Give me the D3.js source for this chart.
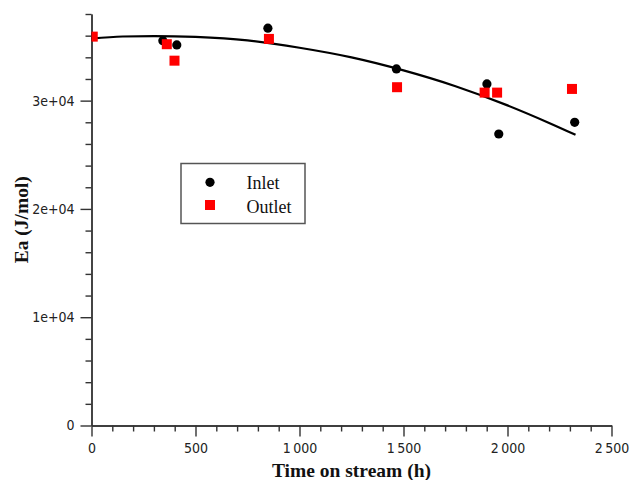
<!DOCTYPE html>
<html>
<head>
<meta charset="utf-8">
<script src="https://cdn.jsdelivr.net/npm/d3@7"></script>
<style>
  html, body { margin: 0; padding: 0; background: #fff; }
  svg { display: block; }
  .tick text { font-family: 'DejaVu Sans Condensed', 'DejaVu Sans', sans-serif; font-stretch: condensed; font-size: 14px; fill: #222; }
</style>
</head>
<body>
<svg id="chart" width="630" height="480"></svg>
<script>
// Apparent activation energy versus time on stream
const inletHours  = [0, 343, 410, 848, 1466, 1901, 1958, 2323];
const inletEa     = [35900, 35540, 35140, 36690, 32930, 31540, 26920, 28000];
const outletHours = [6, 362, 399, 853, 1469, 1890, 1950, 2310];
const outletEa    = [35910, 35210, 33690, 35700, 31240, 30740, 30740, 31080];

// Trend curve drawn through the data
const trendHours = [0, 150, 300, 500, 750, 1000, 1250, 1500, 1750, 2000, 2200, 2327];
const trendEa    = [35720, 35920, 35960, 35880, 35560, 34880, 33990, 32790, 31330, 29560, 27940, 26840];

const xTicks = [0, 500, 1000, 1500, 2000, 2500];
const xTickLabels = ["0", "500", "1\u2009000", "1\u2009500", "2\u2009000", "2\u2009500"];
const yTicks = [0, 10000, 20000, 30000];
const yTickLabels = ["0", "1e+04", "2e+04", "3e+04"];

const seriesNames = ["Inlet", "Outlet"];

const svg = d3.select("#chart");
const W = 630, H = 480;
svg.append("rect").attr("width", W).attr("height", H).attr("fill", "#fff");

const x = d3.scaleLinear().domain([0, 2500]).range([91.5, 611.5]);
const y = d3.scaleLinear().domain([0, 38000]).range([425.5, 14]);

const axisColor = "#333";

// minor ticks
const xMinor = d3.range(0, 2501, 100).filter(v => v % 500 !== 0);
const yMinor = d3.range(0, 38001, 2000).filter(v => v % 10000 !== 0);

const gx = svg.append("g").attr("transform", `translate(0,${y(0)})`);
gx.append("g").call(d3.axisBottom(x).tickValues(xMinor).tickSize(6).tickFormat("").tickSizeOuter(0));
gx.append("g").call(d3.axisBottom(x).tickValues(xTicks).tickSize(11).tickPadding(7).tickSizeOuter(0)
  .tickFormat((d, i) => xTickLabels[i]));

const gy = svg.append("g").attr("transform", `translate(${x(0)},0)`);
gy.append("g").call(d3.axisLeft(y).tickValues(yMinor).tickSize(6).tickFormat("").tickSizeOuter(0));
gy.append("g").call(d3.axisLeft(y).tickValues(yTicks).tickSize(11).tickPadding(6).tickSizeOuter(0)
  .tickFormat((d, i) => yTickLabels[i]));

svg.selectAll(".domain, .tick line").attr("stroke", axisColor).attr("stroke-width", 1.4);

// axis titles
svg.append("text")
  .attr("x", (x(0) + x(2500)) / 2).attr("y", 476.5)
  .attr("text-anchor", "middle")
  .style("font-family", "'Liberation Serif', 'Times New Roman', serif")
  .style("font-weight", "bold").style("font-size", "19.5px").attr("fill", "#111")
  .text("Time on stream (h)");

svg.append("text")
  .attr("transform", `translate(28,${(y(0) + y(38000)) / 2}) rotate(-90)`)
  .attr("text-anchor", "middle")
  .style("font-family", "'Liberation Serif', 'Times New Roman', serif")
  .style("font-weight", "bold").style("font-size", "19.5px").attr("fill", "#111")
  .text("Ea (J/mol)");

// plot area clip
svg.append("clipPath").attr("id", "plotClip")
  .append("rect").attr("x", x(0)).attr("y", 0).attr("width", W - x(0)).attr("height", y(0));

const plot = svg.append("g").attr("clip-path", "url(#plotClip)");

const trend = trendHours.map((t, i) => [t, trendEa[i]]);
plot.append("path")
  .datum(trend)
  .attr("fill", "none").attr("stroke", "#000").attr("stroke-width", 2.2)
  .attr("d", d3.line().x(d => x(d[0])).y(d => y(d[1])).curve(d3.curveMonotoneX));

const inlet = inletHours.map((t, i) => ({ t, e: inletEa[i] }));
const outlet = outletHours.map((t, i) => ({ t, e: outletEa[i] }));

plot.selectAll("circle.inlet").data(inlet).join("circle")
  .attr("class", "inlet")
  .attr("cx", d => x(d.t)).attr("cy", d => y(d.e)).attr("r", 4.6)
  .attr("fill", "#000");

const sq = 10;
plot.selectAll("rect.outlet").data(outlet).join("rect")
  .attr("class", "outlet")
  .attr("x", d => x(d.t) - sq / 2).attr("y", d => y(d.e) - sq / 2)
  .attr("width", sq).attr("height", sq)
  .attr("fill", "#ff0000");

// legend
const lg = svg.append("g");
lg.append("rect").attr("x", 181).attr("y", 163.5).attr("width", 124).attr("height", 60)
  .attr("fill", "#fff").attr("stroke", "#555").attr("stroke-width", 1.5);
lg.append("circle").attr("cx", 210).attr("cy", 182.3).attr("r", 4.6).attr("fill", "#000");
lg.append("rect").attr("x", 205).attr("y", 200).attr("width", sq).attr("height", sq).attr("fill", "#ff0000");
lg.selectAll("text.lg").data(seriesNames).join("text")
  .attr("class", "lg")
  .attr("x", 246.5).attr("y", (d, i) => 188.5 + i * 24)
  .style("font-family", "'Liberation Serif', 'Times New Roman', serif")
  .style("font-size", "18px").attr("fill", "#111")
  .text(d => d);
</script>
</body>
</html>
